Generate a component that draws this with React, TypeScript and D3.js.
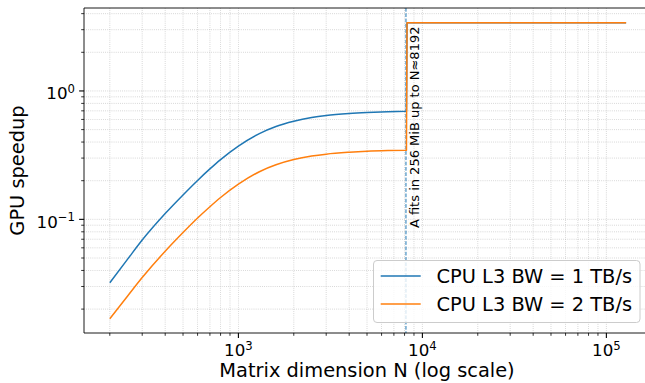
import React from "react";
import * as d3 from "d3";

// Matrix dimension N (log scale)
const sizesN = [200, 250, 300, 400, 500, 600, 700, 800, 1000, 1300, 1600, 2000, 2500, 3000, 4000, 5000, 6500, 8192, 8250, 16384, 32768, 65536, 128000];
// GPU speedup, CPU L3 BW = 1 TB/s
const speedupBw1 = [0.0321, 0.049, 0.069, 0.111, 0.155, 0.201, 0.247, 0.292, 0.372, 0.465, 0.528, 0.58, 0.62, 0.643, 0.666, 0.678, 0.688, 0.695, 3.4, 3.4, 3.4, 3.4, 3.4];
// GPU speedup, CPU L3 BW = 2 TB/s
const speedupBw2 = [0.0168, 0.0253, 0.0352, 0.0565, 0.079, 0.1025, 0.1255, 0.148, 0.188, 0.235, 0.266, 0.292, 0.311, 0.322, 0.333, 0.339, 0.343, 0.345, 3.4, 3.4, 3.4, 3.4, 3.4];

const seriesNames = ["CPU L3 BW = 1 TB/s", "CPU L3 BW = 2 TB/s"];
const seriesColors = ["#1f77b4", "#ff7f0e"];
const xMajorTicks = [1e3, 1e4, 1e5];
const yMajorTicks = [0.1, 1];
const l3LimitN = 8192;
const annotation = "A fits in 256 MiB up to N≈8192";
const xLabel = "Matrix dimension N (log scale)";
const yLabel = "GPU speedup";

const W = 645;
const H = 383;
const left = 84;
const right = 652;
const top = 8;
const bottom = 333;
const FONT = "DejaVu Sans, sans-serif";

export default function App() {
  const x = d3.scaleLog().domain([144.8, 177000]).range([left, right]);
  const y = d3.scaleLog().domain([0.01303, 4.426]).range([bottom, top]);

  const isPow10 = (v: number) => Math.abs(Math.log10(v) - Math.round(Math.log10(v))) < 1e-9;
  const xMinor = x.ticks().filter((v) => !isPow10(v));
  const yMinor = y.ticks().filter((v) => !isPow10(v));

  const stepIdx = sizesN.indexOf(l3LimitN);

  const pathFor = (s: number[]) => {
    const pts: [number, number][] = sizesN.map((n, i) => [x(n), y(s[i])]);
    const smooth = d3.line().curve(d3.curveMonotoneX)(pts.slice(0, stepIdx + 1)) || "";
    const rest = pts.slice(stepIdx + 1).map((p) => `L${p[0]},${p[1]}`).join("");
    return smooth + rest;
  };

  const series = [speedupBw1, speedupBw2];

  const gridStyle = {
    stroke: "#b0b0b0",
    strokeWidth: 0.8,
    strokeDasharray: "0.8,1.32",
    opacity: 0.75,
  };

  const exp = (v: number) => {
    const e = Math.round(Math.log10(v));
    return e < 0 ? "\u2212" + Math.abs(e) : String(e);
  };

  const xv = x(l3LimitN);

  return (
    <svg
      width={W}
      height={H}
      style={{ position: "absolute", left: 0, top: 0, background: "#fff" }}
      fontFamily={FONT}
    >
      <rect x={0} y={0} width={W} height={H} fill="#fff" />
      <defs>
        <clipPath id="plot">
          <rect x={left} y={top} width={right - left} height={bottom - top} />
        </clipPath>
      </defs>
      {/* grid */}
      <g>
        {[...xMinor, ...xMajorTicks].map((v, i) => (
          <line key={"gx" + i} x1={x(v)} x2={x(v)} y1={top} y2={bottom} style={gridStyle} />
        ))}
        {[...yMinor, ...yMajorTicks].map((v, i) => (
          <line key={"gy" + i} x1={left} x2={right} y1={y(v)} y2={y(v)} style={gridStyle} />
        ))}
      </g>
      {/* series */}
      <g clipPath="url(#plot)">
        <line
          x1={xv - 0.5}
          x2={xv - 0.5}
          y1={top}
          y2={bottom}
          stroke={seriesColors[0]}
          strokeWidth={1}
          strokeDasharray="3.7,1.6"
        />
        {series.map((s, k) => (
          <path
            key={k}
            d={pathFor(s)}
            fill="none"
            stroke={seriesColors[k]}
            strokeWidth={1.5}
            strokeLinejoin="round"
          />
        ))}
      </g>
      <text
        transform={`translate(${xv + 13},${y(0.0855)}) rotate(-90)`}
        fontSize={13}
        fill="#000"
      >
        {annotation}
      </text>
      {/* spines */}
      <g stroke="#000" strokeWidth={0.9} fill="none">
        <line x1={left} x2={left} y1={top} y2={bottom} />
        <line x1={left} x2={right} y1={bottom} y2={bottom} />
        <line x1={left} x2={right} y1={top} y2={top} />
        <line x1={right} x2={right} y1={top} y2={bottom} />
      </g>
      {/* ticks */}
      <g stroke="#000">
        {xMajorTicks.map((v, i) => (
          <line key={"xt" + i} x1={x(v)} x2={x(v)} y1={bottom} y2={bottom + 4.9} strokeWidth={1.1} />
        ))}
        {xMinor.map((v, i) => (
          <line key={"xm" + i} x1={x(v)} x2={x(v)} y1={bottom} y2={bottom + 2.8} strokeWidth={0.8} />
        ))}
        {yMajorTicks.map((v, i) => (
          <line key={"yt" + i} x1={left - 4.9} x2={left} y1={y(v)} y2={y(v)} strokeWidth={1.1} />
        ))}
        {yMinor.map((v, i) => (
          <line key={"ym" + i} x1={left - 2.8} x2={left} y1={y(v)} y2={y(v)} strokeWidth={0.8} />
        ))}
      </g>
      {xMajorTicks.map((v, i) => (
        <text key={"xl" + i} x={x(v)} y={356} textAnchor="middle" fontSize={16.7} fill="#000">
          10
          <tspan fontSize={11.7} dy={-6.5}>
            {exp(v)}
          </tspan>
        </text>
      ))}
      {yMajorTicks.map((v, i) => (
        <text key={"yl" + i} x={75} y={y(v) + 8.5} textAnchor="end" fontSize={16.7} fill="#000">
          10
          <tspan fontSize={11.7} dy={-6.5}>
            {exp(v)}
          </tspan>
        </text>
      ))}
      {/* axis labels */}
      <text x={367} y={377} textAnchor="middle" fontSize={19.4} fill="#000">
        {xLabel}
      </text>
      <text
        transform={`translate(24,${(top + bottom) / 2}) rotate(-90)`}
        textAnchor="middle"
        fontSize={19.4}
        fill="#000"
      >
        {yLabel}
      </text>
      {/* legend */}
      <g>
        <rect
          x={373.5}
          y={260.5}
          width={266.5}
          height={62}
          rx={3.5}
          fill="#fff"
          fillOpacity={0.8}
          stroke="#cccccc"
          strokeWidth={1}
        />
        {seriesNames.map((name, i) => (
          <g key={"lg" + i}>
            <line
              x1={380.7}
              x2={420.7}
              y1={276 + i * 28}
              y2={276 + i * 28}
              stroke={seriesColors[i]}
              strokeWidth={1.5}
            />
            <text x={436.5} y={283.3 + i * 28} fontSize={19.4} fill="#000">
              {name}
            </text>
          </g>
        ))}
      </g>
    </svg>
  );
}
